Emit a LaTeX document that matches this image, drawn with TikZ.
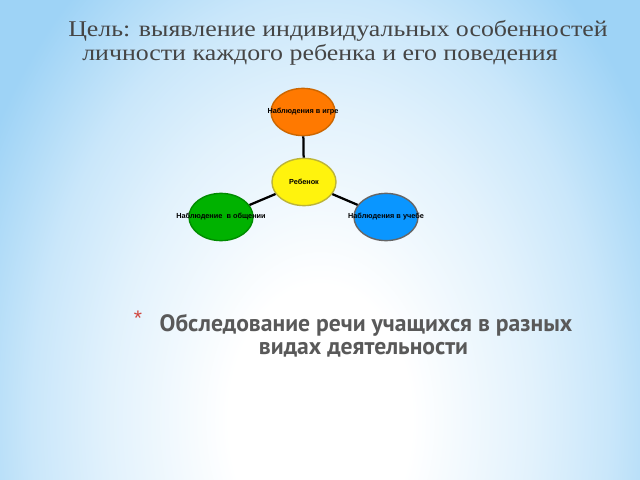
\documentclass[tikz,border=0pt]{standalone}
\usepackage{fontspec}
\setmainfont{Liberation Serif}
\newfontfamily\labelfont{Liberation Sans}
\newfontfamily\headfont{PT Sans}
\newfontfamily\goalfont[FakeStretch=1.15]{Liberation Serif}
\usetikzlibrary{shapes}
\usetikzlibrary{positioning}
\definecolor{bgblue}{HTML}{9ED3F6}
\definecolor{titlegray}{HTML}{454545}
\definecolor{headgray}{HTML}{595959}
\definecolor{starred}{HTML}{D0453D}
\pgfdeclareradialshading{glow}{\pgfpoint{0bp}{0bp}}{color(0bp)=(white); color(6bp)=(white); color(14bp)=(bgblue!30!white); color(19bp)=(bgblue!55!white); color(25bp)=(bgblue)}
\tikzstyle{obs} = [ellipse,draw,line width=1pt,minimum width=1.6cm,minimum height=1.18cm,inner sep=0pt,label={[font=\labelfont\bfseries\fontsize{5.2}{6}\selectfont]center:#1}]
\tikzstyle{link} = [line width=1.6pt,black]
\tikzstyle{goal} = [text=titlegray,font=\goalfont\fontsize{16}{18}\selectfont,anchor=base west,inner sep=0pt]
\tikzstyle{head} = [text=headgray,font=\headfont\bfseries\fontsize{16.8}{19}\selectfont,anchor=base,inner sep=0pt]

\begin{document}
\begin{tikzpicture}
	[x=0.025cm,y=-0.025cm]
	\useasboundingbox (0,0) rectangle (640,480);
	\begin{scope}
		\clip (0,0) rectangle (640,480);
		\fill[bgblue] (0,0) rectangle (640,480);
		\shade[shading=glow] (320,420) ellipse (380 and 560);
	\end{scope}
	% title
	\node (goal1) [goal] at (68,36.7) {Цель: выявление индивидуальных особенностей};
	\node (goal2) [goal] at (82,60.5) {личности каждого ребенка и его поведения};
	% scheme
	\node (child) [obs=Ребенок,fill=yellow!95!white,draw=yellow!70!black] at (304,182) {};
	\node (game) [obs=Наблюдения в игре,fill=orange!95!red,draw=orange!80!black] at (303,112) {};
	\node (talk) [obs=Наблюдение \ в общении,fill=green!70!black,draw=green!55!black] at (221,217) {};
	\node (study) [obs=Наблюдения в учебе,fill={rgb,255:red,10;green,150;blue,255},draw=gray!80!black] at (386,217) {};
	\draw[link] (child) -- (game);
	\draw[link] (child) -- (talk);
	\draw[link] (child) -- (study);
	% heading
	\node (star) [text=starred,font=\labelfont\fontsize{15}{15}\selectfont,inner sep=0pt] at (138,318) {*};
	\node (head1) [head] at (366,331.7) {Обследование речи учащихся в разных};
	\node (head2) [head] at (363.5,354.5) {видах деятельности};
\end{tikzpicture}
\end{document}
